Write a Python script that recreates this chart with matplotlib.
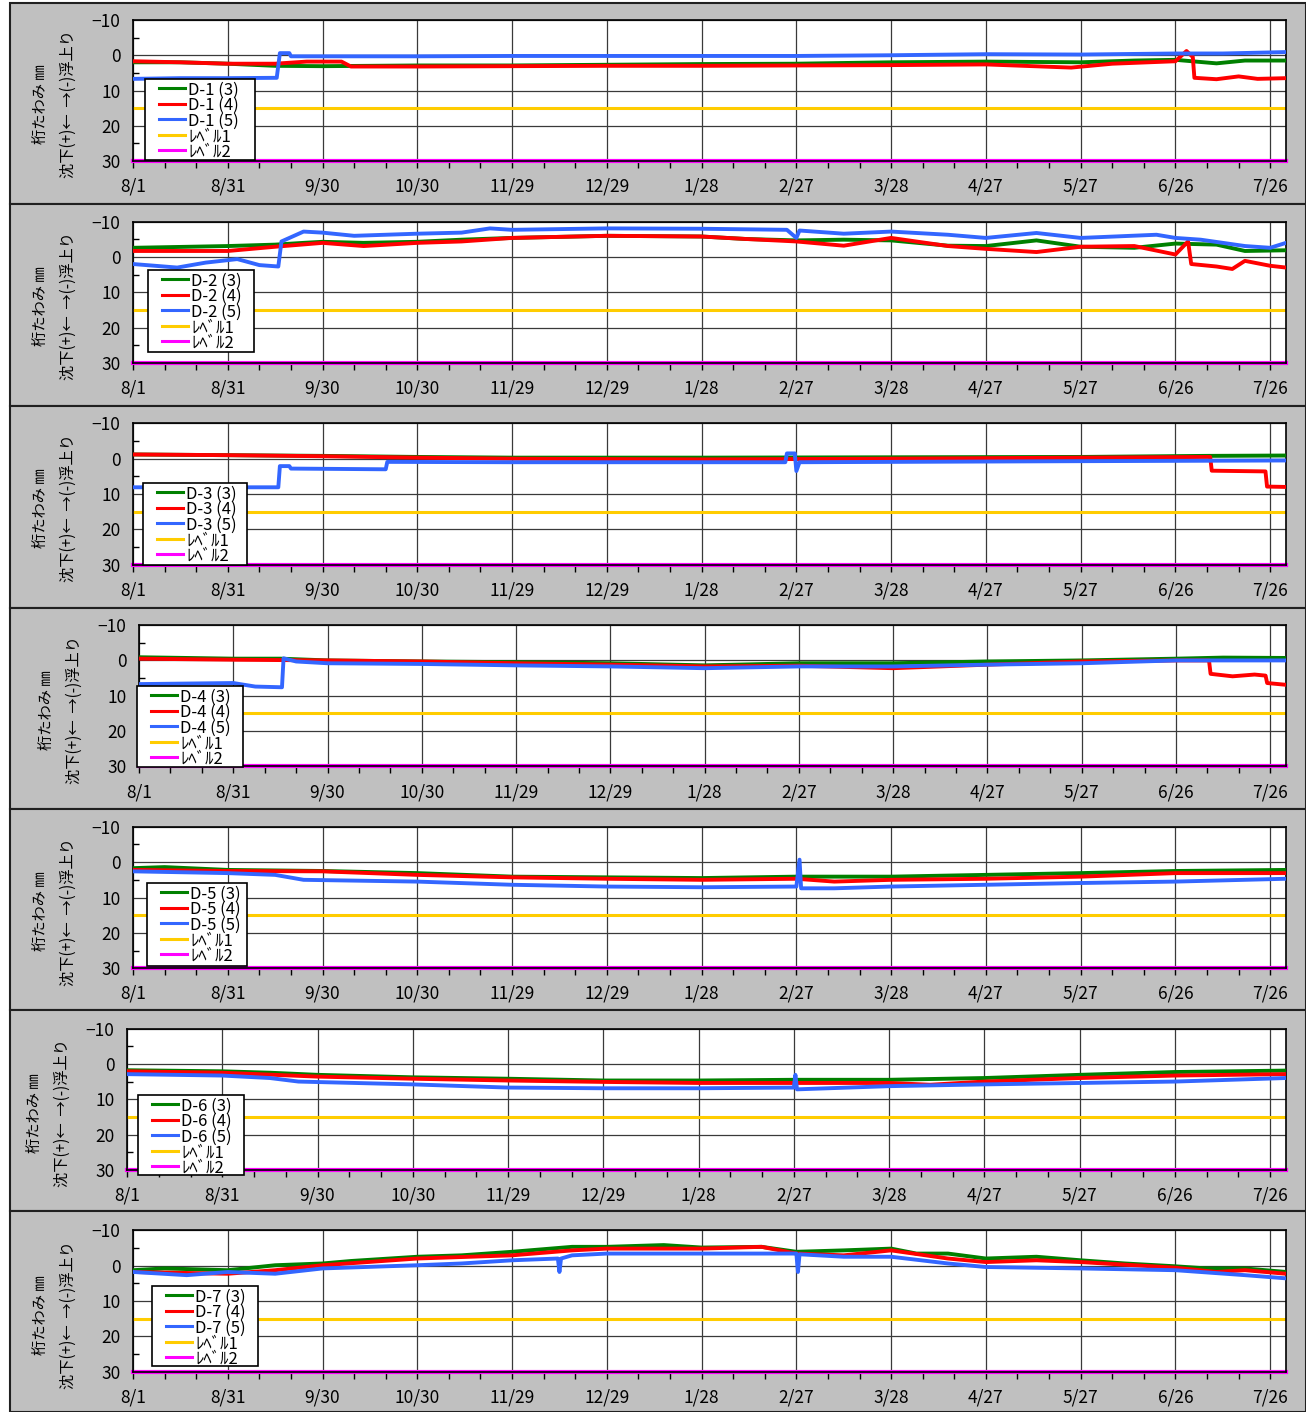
import numpy as np
import matplotlib
matplotlib.use("Agg")
import matplotlib.pyplot as plt
from matplotlib.patches import Rectangle
from matplotlib.lines import Line2D
from matplotlib.ticker import MultipleLocator

plt.rcParams['font.family'] = ['Noto Sans CJK JP', 'DejaVu Sans']

# x axis: days counted from 8/1
tick_days = list(range(0, 361, 30))
tick_labels = ["8/1", "8/31", "9/30", "10/30", "11/29", "12/29", "1/28",
               "2/27", "3/28", "4/27", "5/27", "6/26", "7/26"]
level1 = 15
level2 = 30

# ---- D-1 ----
d1_3_days = [0, 15, 30, 45, 60, 90, 120, 150, 180, 210, 240, 270, 300, 317, 330, 343, 352, 365]
d1_3_vals = [2.0, 2.0, 2.4, 3.0, 3.1, 2.9, 2.9, 2.7, 2.5, 2.4, 2.0, 1.8, 2.0, 1.5, 1.3, 2.3, 1.5, 1.5]
d1_4_days = [0, 15, 30, 45, 55, 66, 69, 90, 120, 150, 180, 210, 240, 270, 297, 310, 330, 333.5, 335.5, 336, 343, 350, 356, 365]
d1_4_vals = [1.7, 2.0, 2.4, 2.4, 1.8, 1.8, 3.2, 3.2, 3.1, 3.0, 3.0, 2.9, 2.8, 2.6, 3.5, 2.4, 1.7, -1.2, 0.5, 6.4, 6.8, 6.0, 6.7, 6.5]
d1_5_days = [0, 15, 30, 45.5, 46.5, 49.5, 50, 90, 120, 180, 210, 240, 270, 300, 330, 345, 365]
d1_5_vals = [6.7, 6.5, 6.5, 6.4, -0.6, -0.6, 0.3, 0.3, 0.2, 0.2, 0.2, 0.0, -0.3, -0.2, -0.5, -0.5, -0.9]

# ---- D-2 ----
d2_3_days = [0, 30, 45, 54, 60, 73, 90, 104, 120, 150, 180, 194, 210, 225, 240, 258, 270, 286, 300, 317, 330, 343, 352, 365]
d2_3_vals = [-2.6, -3.1, -3.5, -4.0, -4.3, -4.0, -4.3, -4.9, -5.4, -6.0, -5.8, -5.1, -4.7, -4.9, -4.7, -3.2, -3.1, -4.7, -2.9, -2.6, -3.8, -3.5, -1.7, -1.9]
d2_4_days = [0, 30, 45, 60, 73, 90, 104, 120, 150, 180, 194, 210, 225, 240, 258, 270, 286, 300, 317, 330, 334, 335, 343, 348, 352, 360, 365]
d2_4_vals = [-1.7, -1.7, -2.9, -4.0, -3.1, -4.0, -4.4, -5.4, -6.0, -5.8, -5.1, -4.4, -3.2, -5.4, -3.1, -2.3, -1.4, -2.9, -3.1, -0.7, -4.4, 2.0, 2.7, 3.4, 1.1, 2.5, 3.0]
d2_5_days = [0, 14, 23, 33, 40, 46, 47, 54, 60, 70, 90, 104, 113, 120, 150, 180, 207, 210, 211, 225, 240, 258, 270, 286, 300, 324, 330, 338, 352, 360, 365]
d2_5_vals = [2.0, 3.0, 1.6, 0.6, 2.3, 2.7, -4.4, -7.2, -6.9, -6.0, -6.6, -6.9, -8.1, -7.7, -8.1, -8.0, -7.7, -5.4, -7.5, -6.6, -7.2, -6.3, -5.4, -6.8, -5.4, -6.3, -5.4, -4.9, -3.1, -2.6, -4.0]

# ---- D-3 ----
d3_3_days = [0, 30, 60, 90, 120, 180, 240, 300, 340, 365]
d3_3_vals = [-1.2, -1.0, -0.8, -0.5, -0.3, -0.3, -0.4, -0.5, -0.8, -0.9]
d3_4_days = [0, 30, 60, 90, 120, 180, 240, 300, 341, 341.5, 358.5, 359, 365]
d3_4_vals = [-1.2, -1.0, -0.7, -0.3, 0.0, 0.2, 0.0, -0.3, -0.5, 3.4, 3.6, 7.9, 8.0]
d3_5_days = [0, 46, 46.5, 49.5, 50, 80, 80.5, 120, 180, 206.5, 207, 209.5, 210, 211, 240, 300, 365]
d3_5_vals = [8.1, 8.1, 2.1, 2.1, 2.8, 3.0, 0.9, 1.0, 1.0, 1.0, -1.5, -1.5, 3.5, 1.0, 0.9, 0.7, 0.5]

# ---- D-4 ----
d4_3_days = [0, 30, 45, 60, 90, 120, 150, 180, 210, 240, 270, 300, 330, 345, 365]
d4_3_vals = [-0.9, -0.5, -0.5, 0.0, 0.3, 0.5, 0.8, 1.4, 0.8, 0.8, 0.3, 0.0, -0.5, -0.8, -0.7]
d4_4_days = [0, 30, 60, 90, 120, 150, 180, 210, 240, 270, 300, 330, 340.5, 341, 348, 355, 358.5, 359, 365]
d4_4_vals = [-0.5, -0.2, 0.0, 0.3, 0.8, 1.2, 1.7, 1.5, 2.2, 1.2, 0.3, 0.0, 0.0, 3.8, 4.5, 4.0, 4.3, 6.4, 6.9]
d4_5_days = [0, 20, 30, 37, 45.5, 46, 50, 60, 90, 120, 150, 180, 210, 240, 270, 300, 330, 365]
d4_5_vals = [6.7, 6.5, 6.4, 7.4, 7.6, -0.6, 0.3, 0.8, 1.0, 1.4, 1.7, 2.2, 1.7, 1.7, 1.2, 0.8, 0.0, 0.0]

# ---- D-5 ----
d5_3_days = [0, 10, 30, 60, 90, 120, 150, 180, 210, 240, 270, 300, 330, 365]
d5_3_vals = [1.7, 1.4, 2.2, 2.5, 3.1, 4.1, 4.3, 4.5, 4.1, 4.1, 3.6, 3.1, 2.5, 2.2]
d5_4_days = [0, 30, 60, 90, 120, 150, 180, 210, 222, 240, 270, 300, 330, 365]
d5_4_vals = [2.2, 2.5, 2.6, 3.6, 4.3, 4.7, 5.0, 4.7, 5.5, 5.0, 4.7, 4.1, 3.1, 3.1]
d5_5_days = [0, 30, 45, 54, 90, 120, 150, 180, 210, 211, 211.5, 222, 240, 270, 300, 330, 365]
d5_5_vals = [2.6, 3.1, 3.6, 5.0, 5.5, 6.4, 6.9, 7.1, 6.9, -0.7, 7.4, 7.4, 6.9, 6.4, 5.9, 5.5, 4.7]

# ---- D-6 ----
d6_3_days = [0, 30, 45, 60, 90, 120, 150, 180, 210, 240, 270, 300, 330, 365]
d6_3_vals = [1.8, 2.1, 2.5, 3.1, 3.8, 4.2, 4.7, 4.7, 4.5, 4.5, 4.0, 3.1, 2.3, 1.9]
d6_4_days = [0, 30, 60, 90, 120, 150, 180, 210, 240, 253, 270, 300, 330, 365]
d6_4_vals = [2.1, 2.5, 3.6, 4.2, 4.7, 5.1, 5.4, 5.4, 5.4, 5.9, 5.0, 4.0, 3.3, 2.9]
d6_5_days = [0, 30, 45, 54, 90, 120, 150, 180, 210, 210.5, 211, 240, 270, 300, 330, 365]
d6_5_vals = [2.9, 3.3, 4.0, 5.0, 5.8, 6.7, 6.9, 6.9, 6.7, 3.1, 7.2, 6.3, 5.8, 5.4, 5.0, 4.0]

# ---- D-7 ----
d7_3_days = [0, 10, 30, 45, 60, 69, 90, 104, 120, 139, 150, 168, 180, 199, 210, 225, 240, 248, 258, 270, 286, 300, 314, 330, 340, 352, 365]
d7_3_vals = [1.3, 0.8, 1.3, -0.1, -0.6, -1.3, -2.5, -2.9, -3.9, -5.3, -5.3, -5.8, -5.1, -5.3, -3.9, -4.3, -4.8, -3.4, -3.4, -2.0, -2.5, -1.5, -0.6, 0.2, 0.8, 0.8, 1.8]
d7_4_days = [0, 30, 45, 60, 90, 120, 139, 150, 180, 199, 210, 225, 240, 258, 270, 286, 300, 330, 343, 352, 365]
d7_4_vals = [1.8, 2.3, 1.3, -0.1, -2.0, -2.9, -4.3, -4.8, -4.8, -5.3, -3.4, -2.9, -4.3, -2.0, -1.0, -1.5, -1.0, 0.6, 1.8, 1.3, 2.3]
d7_5_days = [0, 17, 30, 45, 60, 90, 104, 120, 134.5, 135, 135.5, 139, 150, 180, 210, 210.5, 211, 225, 240, 258, 270, 300, 330, 352, 365]
d7_5_vals = [1.8, 2.7, 1.8, 2.3, 0.8, -0.1, -0.6, -1.5, -2.0, 1.8, -2.0, -2.9, -3.4, -3.4, -3.4, 1.8, -3.2, -2.5, -2.5, -0.6, 0.4, 0.8, 1.3, 2.7, 3.6]

panels = [
    ("D-1", (d1_3_days, d1_3_vals), (d1_4_days, d1_4_vals), (d1_5_days, d1_5_vals)),
    ("D-2", (d2_3_days, d2_3_vals), (d2_4_days, d2_4_vals), (d2_5_days, d2_5_vals)),
    ("D-3", (d3_3_days, d3_3_vals), (d3_4_days, d3_4_vals), (d3_5_days, d3_5_vals)),
    ("D-4", (d4_3_days, d4_3_vals), (d4_4_days, d4_4_vals), (d4_5_days, d4_5_vals)),
    ("D-5", (d5_3_days, d5_3_vals), (d5_4_days, d5_4_vals), (d5_5_days, d5_5_vals)),
    ("D-6", (d6_3_days, d6_3_vals), (d6_4_days, d6_4_vals), (d6_5_days, d6_5_vals)),
    ("D-7", (d7_3_days, d7_3_vals), (d7_4_days, d7_4_vals), (d7_5_days, d7_5_vals)),
]

# layout in pixels
W, H = 1306, 1412
box_tops = [3, 204, 406, 608, 809, 1010, 1211, 1412]
plot_lefts = [133, 133, 133, 139, 133, 127, 133]
plot_right = 1286
# legend boxes: left, top, width, height (pixels)
legend_box = [(145, 79, 110, 81), (148, 270, 106, 82), (143, 483, 104, 82),
              (137, 686, 106, 81), (147, 883, 100, 83), (138, 1095, 106, 80),
              (152, 1286, 106, 80)]

series_colors = ["#008000", "#ff0000", "#3366ff"]
col_level1 = "#ffcc00"
col_level2 = "#ff00ff"


def fx(px):
    return px / W


def fy(py):
    return 1 - py / H


fig = plt.figure(figsize=(W / 100, H / 100), dpi=100)
fig.patch.set_facecolor("white")

for k, (name, s3, s4, s5) in enumerate(panels):
    # gray panel background
    y0, y1 = box_tops[k], box_tops[k + 1]
    fig.patches.append(Rectangle((fx(10), fy(y1)), (W - 10) / W, (y1 - y0) / H,
                                 transform=fig.transFigure, facecolor="#c0c0c0",
                                 edgecolor="#202020", lw=1.5, zorder=-10))

    top = 20 + k * 201.7
    bottom = 161 + k * 201.8
    left = plot_lefts[k]
    ax = fig.add_axes([fx(left), fy(bottom), (plot_right - left) / W, (bottom - top) / H])
    ax.set_facecolor("white")

    for (dd, vv), c in zip((s3, s4, s5), series_colors):
        ax.plot(dd, vv, color=c, lw=2.8, zorder=3)
    ax.axhline(level1, color=col_level1, lw=2.2, zorder=2)
    ax.axhline(level2, color=col_level2, lw=3, zorder=2, clip_on=False)

    ax.set_xlim(0, 365)
    ax.set_ylim(30, -10)
    ax.set_xticks(tick_days)
    ax.set_xticklabels(tick_labels)
    ax.xaxis.set_minor_locator(MultipleLocator(10))
    ax.set_yticks([-10, 0, 10, 20, 30])
    ax.yaxis.set_minor_locator(MultipleLocator(5))
    ax.grid(True, which="major", color="#3a3a3a", lw=0.9, zorder=1)
    ax.tick_params(axis="x", which="both", direction="out", length=5, width=1,
                   pad=7, labelsize=12.5)
    ax.tick_params(axis="y", which="major", length=0, pad=9, labelsize=12.5)
    ax.tick_params(axis="y", which="minor", direction="in", length=4, width=1)
    for sp in ax.spines.values():
        sp.set_color("black")
        sp.set_linewidth(1.2)

    # legend box drawn in figure pixels
    lx, ly, lw_, lh = legend_box[k]
    fig.add_artist(Rectangle((fx(lx), fy(ly + lh)), lw_ / W, lh / H,
                             transform=fig.transFigure, facecolor="white",
                             edgecolor="black", lw=1.2, zorder=5))
    labels = [f"{name} (3)", f"{name} (4)", f"{name} (5)", "ﾚﾍﾞﾙ1", "ﾚﾍﾞﾙ2"]
    colors = series_colors + [col_level1, col_level2]
    for i, (lab, c) in enumerate(zip(labels, colors)):
        yy = ly + 9 + i * 15.6
        fig.add_artist(Line2D([fx(lx + 14), fx(lx + 40)], [fy(yy), fy(yy)],
                              transform=fig.transFigure, color=c, lw=2.2, zorder=6))
        fig.text(fx(lx + 43), fy(yy), lab, ha="left", va="center_baseline",
                 fontsize=12, zorder=6)

    yc = (top + bottom) / 2 + 14
    fig.text(fx(left - 93), fy(yc), "桁たわみ ㎜", rotation=90,
             ha="center", va="center", fontsize=11)
    fig.text(fx(left - 65), fy(yc), "沈下(+)←  →(-)浮上り", rotation=90,
             ha="center", va="center", fontsize=11)

fig.savefig("out.png", dpi=100)
